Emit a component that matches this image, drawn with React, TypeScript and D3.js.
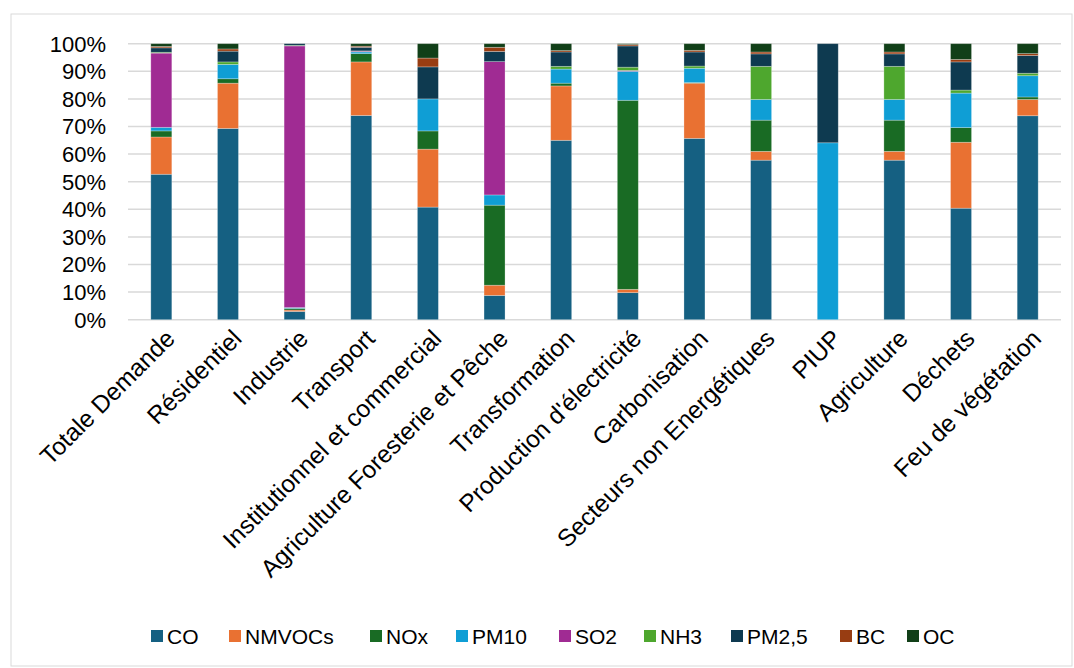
import React from "react";
import * as d3 from "d3";

const categories = [
  "Totale Demande",
  "Résidentiel",
  "Industrie",
  "Transport",
  "Institutionnel et commercial",
  "Agriculture Foresterie et Pêche",
  "Transformation",
  "Production d'électricité",
  "Carbonisation",
  "Secteurs non Energétiques",
  "PIUP",
  "Agriculture",
  "Déchets",
  "Feu de végétation",
];

const seriesNames = ["CO", "NMVOCs", "NOx", "PM10", "SO2", "NH3", "PM2,5", "BC", "OC"];
const seriesColors = ["#156082", "#E97132", "#196B24", "#0F9ED5", "#A02B93", "#4EA72E", "#0E3A50", "#983D12", "#113F18"];

const CO = [52.7, 69.3, 3.0, 74.0, 40.8, 8.8, 65.0, 9.8, 65.7, 57.8, 0, 57.8, 40.4, 73.9];
const NMVOCs = [13.5, 16.4, 0.5, 19.4, 21.0, 3.7, 19.7, 1.2, 20.0, 3.2, 0, 3.2, 23.9, 5.9];
const NOx = [2.2, 1.6, 0.6, 3.0, 6.6, 29.0, 1.0, 68.5, 0.2, 11.3, 0, 11.3, 5.3, 0.9];
const PM10 = [1.3, 5.2, 0.3, 0.6, 11.6, 3.7, 5.1, 10.5, 5.2, 7.5, 64.1, 7.5, 12.5, 7.7];
const SO2 = [26.9, 0, 94.8, 0.3, 0, 48.3, 0, 0.3, 0, 0, 0, 0, 0, 0];
const NH3 = [0.3, 0.9, 0.2, 0.1, 0, 0, 1.0, 1.2, 0.8, 12.0, 0, 12.0, 1.1, 0.9];
const PM25 = [1.6, 3.9, 0.6, 1.3, 11.6, 3.7, 5.2, 7.7, 5.1, 4.5, 35.9, 4.5, 10.2, 6.4];
const BC = [0.5, 0.8, 0, 0.4, 3.2, 1.5, 0.5, 0.5, 0.6, 0.7, 0, 0.7, 0.9, 0.7];
const OC = [1.0, 1.9, 0, 0.9, 5.2, 1.3, 2.5, 0.3, 2.4, 3.0, 0, 3.0, 5.7, 3.6];

const yTicks = [0, 10, 20, 30, 40, 50, 60, 70, 80, 90, 100];

const seriesValues = [CO, NMVOCs, NOx, PM10, SO2, NH3, PM25, BC, OC];

export default function App() {
  const W = 1074;
  const H = 668;
  const left = 128;
  const right = 1061;
  const top = 43.7;
  const bottom = 319.7;
  const font = "'Liberation Sans', Arial, sans-serif";

  const x = d3.scaleBand<string>().domain(categories).range([left, right]).padding(0);
  const y = d3.scaleLinear().domain([0, 100]).range([bottom, top]);
  const barW = x.bandwidth() * 0.315;

  const rows = categories.map((c, i) => {
    const r: Record<string, any> = { cat: c };
    seriesNames.forEach((s, j) => (r[s] = seriesValues[j][i]));
    return r;
  });
  const stacked = d3.stack<any>().keys(seriesNames).offset(d3.stackOffsetExpand)(rows);

  const legendFont = 21;
  const legendItems = [
    { name: "CO", x: 151 },
    { name: "NMVOCs", x: 229 },
    { name: "NOx", x: 370 },
    { name: "PM10", x: 456 },
    { name: "SO2", x: 559 },
    { name: "NH3", x: 644 },
    { name: "PM2,5", x: 731 },
    { name: "BC", x: 840 },
    { name: "OC", x: 907 },
  ];

  return (
    <svg width={W} height={H} style={{ position: "absolute", left: 0, top: 0, background: "#fff" }}>
      <rect x={11} y={14} width={1061} height={652} fill="#fff" stroke="#d9d9d9" strokeWidth={1} />
      {yTicks.map((t) => (
        <g key={t}>
          <line x1={left} x2={right} y1={y(t)} y2={y(t)} stroke="#d9d9d9" strokeWidth={1.5} />
          <text x={106} y={y(t)} dy="0.36em" textAnchor="end" fontFamily={font} fontSize={22} fill="#000">
            {t + "%"}
          </text>
        </g>
      ))}
      {stacked.map((layer, j) => (
        <g key={layer.key} fill={seriesColors[j]}>
          {layer.map((d, i) => {
            const v0 = d[0] * 100;
            const v1 = d[1] * 100;
            if (v1 - v0 <= 0) return null;
            const cx = (x(categories[i]) as number) + x.bandwidth() / 2;
            return (
              <rect
                key={i}
                x={cx - barW / 2}
                y={y(v1)}
                width={barW}
                height={y(v0) - y(v1)}
                stroke="#ffffff"
                strokeOpacity={0.35}
                strokeWidth={0.75}
              />
            );
          })}
        </g>
      ))}
      {categories.map((c) => {
        const cx = (x(c) as number) + x.bandwidth() / 2;
        return (
          <text
            key={c}
            transform={`translate(${cx + 9},${334}) rotate(-45)`}
            textAnchor="end"
            dy="0.35em"
            fontFamily={font}
            fontSize={24.5}
            fill="#000"
          >
            {c}
          </text>
        );
      })}
      {legendItems.map((it, j) => (
        <g key={it.name}>
          <rect x={it.x} y={630} width={12} height={12} fill={seriesColors[j]} />
          <text x={it.x + 16} y={636} dy="0.36em" fontFamily={font} fontSize={legendFont} fill="#000">
            {it.name}
          </text>
        </g>
      ))}
    </svg>
  );
}
